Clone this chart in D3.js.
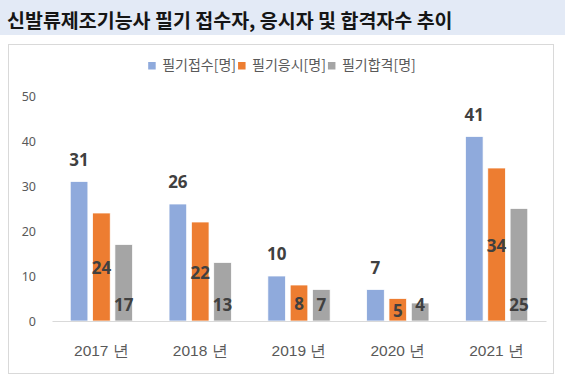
<!DOCTYPE html>
<meta charset="utf-8">
<title>신발류제조기능사 필기 추이</title>
<style>
    body { margin: 0; background: #fff; }
    svg { display: block; font-family: "Noto Sans", "Noto Sans CJK KR", sans-serif; }
</style>
<body>
<script src="https://cdn.jsdelivr.net/npm/d3@7"></script>
<script>

    var years = ["2017 년", "2018 년", "2019 년", "2020 년", "2021 년"];
    var applied = [31, 26, 10, 7, 41];   // 필기접수
    var took = [24, 22, 8, 5, 34];       // 필기응시
    var passed = [17, 13, 7, 4, 25];     // 필기합격
    var seriesNames = ["필기접수[명]", "필기응시[명]", "필기합격[명]"];
    var yTicks = [0, 10, 20, 30, 40, 50];

    var colors = ["#8faadc", "#ed7d31", "#a5a5a5"];
    var values = [applied, took, passed];

    var width = 565, height = 386;

    var svg = d3.select("body").append("svg")
        .attr("width", width)
        .attr("height", height);

    // title bar
    svg.append("rect")
        .attr("x", 0).attr("y", 0)
        .attr("width", width).attr("height", 35)
        .attr("fill", "#e3eaf6");

    svg.append("text")
        .attr("x", 7).attr("y", 28)
        .attr("font-family", "'Noto Sans CJK KR', sans-serif")
        .attr("font-size", 19.5)
        .attr("font-weight", "bold")
        .attr("fill", "#151515")
        .text("신발류제조기능사 필기 접수자, 응시자 및 합격자수 추이");

    // chart panel
    svg.append("rect")
        .attr("x", 8.5).attr("y", 44.5)
        .attr("width", 545).attr("height", 329)
        .attr("fill", "#fff")
        .attr("stroke", "#d9d9d9");

    var x = d3.scaleBand()
        .domain(years)
        .range([52, 546]);

    var x1 = d3.scaleBand()
        .domain(d3.range(3))
        .range([0, 62.3])
        .paddingInner(0.21);

    var y = d3.scaleLinear()
        .domain([0, 50])
        .range([321, 96]);

    // y axis
    var yAxis = svg.append("g")
        .attr("transform", "translate(52,0)")
        .call(d3.axisLeft(y).tickValues(yTicks).tickSize(0).tickPadding(16));
    yAxis.select(".domain").remove();
    yAxis.selectAll("text")
        .attr("font-size", 12.5)
        .attr("fill", "#595959")
        .attr("font-family", "'Noto Sans', sans-serif");

    // bars
    var groups = svg.selectAll("g.year")
        .data(years)
        .enter().append("g")
        .attr("class", "year")
        .attr("transform", function(d) { return "translate(" + (x(d) + x.bandwidth() / 2 - 31.15) + ",0)"; });

    groups.selectAll("rect")
        .data(function(d, i) { return values.map(function(v, s) { return { s: s, v: v[i] }; }); })
        .enter().append("rect")
        .attr("x", function(d) { return x1(d.s); })
        .attr("y", function(d) { return y(d.v); })
        .attr("width", x1.bandwidth())
        .attr("height", function(d) { return y(0) - y(d.v); })
        .attr("fill", function(d) { return colors[d.s]; })
        .attr("stroke", "#fff")
        .attr("stroke-width", 0.75);

    // x axis
    var xAxis = svg.append("g")
        .attr("transform", "translate(0,321)")
        .call(d3.axisBottom(x).tickSize(0).tickSizeOuter(0).tickPadding(24));
    xAxis.select(".domain").attr("stroke", "#d9d9d9");
    xAxis.selectAll("text")
        .attr("font-size", 15.5)
        .attr("fill", "#595959");

    // data labels
    groups.selectAll("text.lbl")
        .data(function(d, i) { return values.map(function(v, s) { return { s: s, v: v[i] }; }); })
        .enter().append("text")
        .attr("class", "lbl")
        .attr("x", function(d) { return x1(d.s) + x1.bandwidth() / 2; })
        .attr("y", function(d) {
            if (d.s === 0) return y(d.v) - 16;
            if (d.s === 1) return (y(d.v) + y(0)) / 2 + 7;
            return y(0) - 10;
        })
        .attr("text-anchor", "middle")
        .attr("font-size", 17)
        .attr("font-weight", "bold")
        .attr("fill", "#404040")
        .text(function(d) { return d.v; });

    // legend
    var legend = svg.append("g").attr("transform", "translate(0,70)");
    var lx = 0;
    var items = legend.selectAll("g")
        .data(seriesNames)
        .enter().append("g");
    items.append("rect")
        .attr("y", -8).attr("width", 7.5).attr("height", 7.5)
        .attr("fill", function(d, i) { return colors[i]; });
    items.append("text")
        .attr("x", 14)
        .attr("font-size", 14)
        .attr("fill", "#595959")
        .attr("font-family", "'Noto Sans CJK KR', sans-serif")
        .text(function(d) { return d; });
    items.each(function() {
        var g = d3.select(this);
        g.attr("transform", "translate(" + lx + ",0)");
        lx += 14 + g.select("text").node().getComputedTextLength() + 2;
    });
    legend.attr("transform", "translate(" + (283 - lx / 2) + ",70)");

</script>
